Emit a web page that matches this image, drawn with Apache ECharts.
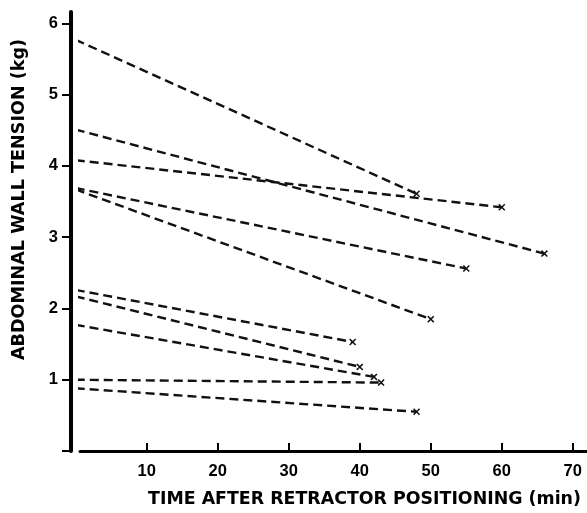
<!DOCTYPE html>
<html><head><meta charset="utf-8">
<script src="https://cdn.jsdelivr.net/npm/echarts@6/dist/echarts.min.js"></script>
<style>html,body{margin:0;padding:0;background:#fff}#c{width:587px;height:513px}</style>
</head><body><div id="c"></div>
<script>
// Abdominal wall tension at start (time 0) and at end time for each patient
const startTime = [0, 0, 0, 0, 0, 0, 0, 0, 0, 0];
const startTension = [5.77, 4.51, 4.08, 3.69, 3.67, 2.26, 2.17, 1.77, 1.0, 0.88];
const endTime = [48, 66, 60, 55, 50, 39, 40, 42, 43, 48];
const endTension = [3.61, 2.77, 3.42, 2.56, 1.85, 1.53, 1.18, 1.04, 0.96, 0.55];
const xTicks = [10, 20, 30, 40, 50, 60, 70];
const yTicks = [0, 1, 2, 3, 4, 5, 6];

const font = 'Liberation Sans, Arial, Helvetica, sans-serif';
const titleFont = 'DejaVu Sans, Verdana, sans-serif';
const xMark = 'path://M0,1.5 L1.5,0 L5,3.5 L8.5,0 L10,1.5 L6.5,5 L10,8.5 L8.5,10 L5,6.5 L1.5,10 L0,8.5 L3.5,5 Z';

const series = startTension.map((s, i) => ({
  type: 'line',
  silent: true,
  data: [
    { value: [startTime[i], s], symbol: 'none' },
    { value: [endTime[i], endTension[i]], symbol: xMark, symbolSize: 7 }
  ],
  lineStyle: { color: '#111', width: 2.4, type: [9, 5] },
  itemStyle: { color: '#111' },
  animation: false
}));

const chart = echarts.init(document.getElementById('c'), null, { renderer: 'canvas' });
chart.setOption({
  backgroundColor: '#fff',
  animation: false,
  grid: { left: 80, right: 0, top: 12, bottom: 60.5, containLabel: false },
  xAxis: {
    type: 'value', min: 0.6, max: 72,
    axisLine: { show: true, lineStyle: { color: '#000', width: 3 } },
    axisTick: { show: true, inside: true, length: 8, customValues: xTicks, lineStyle: { color: '#000', width: 2 } },
    axisLabel: {
      color: '#000', fontFamily: font, fontSize: 16.5, fontWeight: 'bold', margin: 12,
      customValues: xTicks
    },
    splitLine: { show: false },
    name: 'TIME AFTER RETRACTOR POSITIONING (min)',
    nameLocation: 'middle', nameGap: 40,
    nameTextStyle: { color: '#000', fontFamily: titleFont, fontSize: 17.4, fontWeight: 'bold', padding: [0, 0, 0, 62] }
  },
  yAxis: {
    type: 'value', min: 0, max: 6.16, offset: 9,
    axisLine: { show: true, lineStyle: { color: '#000', width: 4 } },
    axisTick: { show: true, inside: false, length: 9, customValues: yTicks, lineStyle: { color: '#000', width: 2 } },
    axisLabel: {
      color: '#000', fontFamily: font, fontSize: 16.5, fontWeight: 'bold', margin: 13,
      customValues: yTicks.slice(1)
    },
    splitLine: { show: false },
    name: 'ABDOMINAL WALL TENSION (kg)',
    nameLocation: 'middle', nameGap: 43, nameRotate: 90,
    nameTextStyle: { color: '#000', fontFamily: titleFont, fontSize: 17.6, fontWeight: 'bold', padding: [0, 0, 0, 64] }
  },
  series: series
});
</script></body></html>
